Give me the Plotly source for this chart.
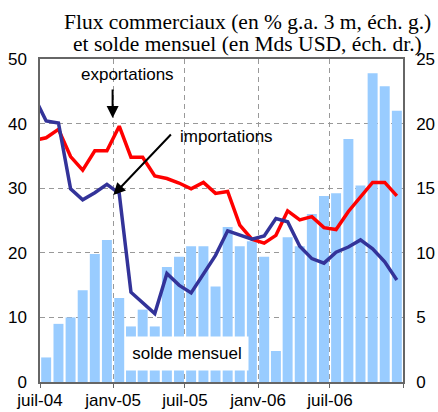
import pandas as pd
import plotly.graph_objects as go

# months shown as bars (juil-04 .. déc-06)
MONTHS = pd.date_range("2004-07-01", periods=30, freq="MS")
# lines start one month earlier (juin-04, clipped at the axis edge)
LINE_MONTHS = pd.date_range("2004-06-01", periods=31, freq="MS")

SOLDE = [1.9, 4.5, 5.0, 7.1, 9.9, 11.0, 6.5, 4.3, 5.6, 4.3,
         8.9, 9.7, 10.5, 10.5, 7.4, 12.0, 10.5, 10.9, 9.7, 2.4,
         11.2, 10.5, 13.0, 14.4, 14.6, 18.8, 15.2, 23.9, 22.9, 21.0]

EXPORTATIONS = [37.4,
                37.8, 39.1, 34.9, 32.8, 35.8, 35.8, 39.6, 34.8, 34.8, 31.9,
                31.5, 30.8, 29.9, 30.9, 29.2, 29.5, 24.3, 22.1, 21.5, 22.7,
                26.5, 25.1, 25.6, 23.9, 23.6, 26.4, 28.7, 30.9, 30.9, 28.8]

IMPORTATIONS = [44.2,
                40.4, 40.1, 29.9, 28.2, 29.3, 30.6, 29.2, 13.9, 12.2, 10.6,
                16.8, 15.0, 13.8, 16.8, 19.6, 23.4, 22.8, 22.1, 22.6, 25.3,
                24.8, 21.0, 19.1, 18.4, 20.1, 20.9, 22.0, 20.6, 18.6, 15.8]

TICK_DATES = ["2004-07-01", "2005-01-01", "2005-07-01", "2006-01-01", "2006-07-01", "2007-01-01"]
TICK_TEXT = ["juil-04", "janv-05", "juil-05", "janv-06", "juil-06", ""]

SANS = "Liberation Sans"
SERIF = "Liberation Serif"
GRID = dict(showgrid=True, gridcolor="#999", griddash="5px,4px", gridwidth=1)

fig = go.Figure()

# bars on the primary (right-hand) axis so the lines sit on top of them
fig.add_trace(go.Bar(
    x=MONTHS, y=SOLDE, yaxis="y",
    xperiod="M1", xperiodalignment="middle",
    marker=dict(color="#99CCFF", line=dict(width=0)),
    name="solde mensuel",
))
fig.add_trace(go.Scatter(
    x=LINE_MONTHS, y=EXPORTATIONS, mode="lines", yaxis="y2",
    xperiod="M1", xperiodalignment="middle",
    line=dict(color="#FF0000", width=3.5),
    name="exportations",
))
fig.add_trace(go.Scatter(
    x=LINE_MONTHS, y=IMPORTATIONS, mode="lines", yaxis="y2",
    xperiod="M1", xperiodalignment="middle",
    line=dict(color="#333399", width=3.5),
    name="importations",
))

fig.update_layout(
    width=438, height=412,
    margin=dict(l=40, r=35, t=59, b=30),
    paper_bgcolor="white", plot_bgcolor="white",
    showlegend=False,
    bargap=0.15,
    font=dict(family=SANS, size=17, color="black"),
    xaxis=dict(
        type="date", automargin=False,
        range=["2004-07-01", "2007-01-01"],
        tickvals=TICK_DATES, ticktext=TICK_TEXT,
        ticks="outside", ticklen=4, tickcolor="#666",
        ticklabelstandoff=-2,
        showline=True, linecolor="#666", linewidth=1.5, mirror=True,
        zeroline=False, **GRID,
    ),
    # solde mensuel, right scale
    yaxis=dict(
        range=[0, 25], tickvals=[0, 5, 10, 15, 20, 25],
        side="right", automargin=False,
        showline=True, linecolor="#666", linewidth=1.5,
        zeroline=False, ticks="", ticklabelstandoff=8, **GRID,
    ),
    # flux commerciaux, left scale
    yaxis2=dict(
        range=[0, 50], tickvals=[0, 10, 20, 30, 40, 50],
        overlaying="y", side="left", automargin=False,
        showgrid=False, showline=True, linecolor="#666", linewidth=1.5,
        zeroline=False, ticks="", ticklabelstandoff=8,
    ),
)

annotations = [
    # title, two lines
    dict(text="Flux commerciaux (en % g.a. 3 m, éch. g.)", x=0.571, y=1.0 + 37 / 323,
         font=dict(family=SERIF, size=21.5)),
    dict(text="et solde mensuel (en Mds USD, éch. dr.)", x=0.571, y=1.0 + 15 / 323,
         font=dict(family=SERIF, size=21.5)),
    # series labels
    dict(text="exportations", x=0.242, y=0.951),
    dict(text="importations", x=0.515, y=0.76),
    dict(text="solde mensuel", x=0.405, y=0.089, bgcolor="white",
         width=122, height=33, borderpad=0),
]
for a in annotations:
    a.update(xref="paper", yref="paper", showarrow=False,
             xanchor="center", yanchor="middle")
    fig.add_annotation(**a)

# arrows
fig.add_annotation(x=0.2, y=0.817, xref="paper", yref="paper", text="",
                   showarrow=True, ax=0, ay=-30, arrowhead=2, arrowsize=1.2,
                   arrowwidth=2, arrowcolor="black")
fig.add_annotation(x=0.202, y=0.579, xref="paper", yref="paper", text="",
                   showarrow=True, ax=59, ay=-62, arrowhead=2, arrowsize=1.2,
                   arrowwidth=2, arrowcolor="black")

# the page's default body margin would shift the figure by 8px
fig.write_html("out.html", config={"displayModeBar": False},
               post_script="document.body.style.margin = '0';")
